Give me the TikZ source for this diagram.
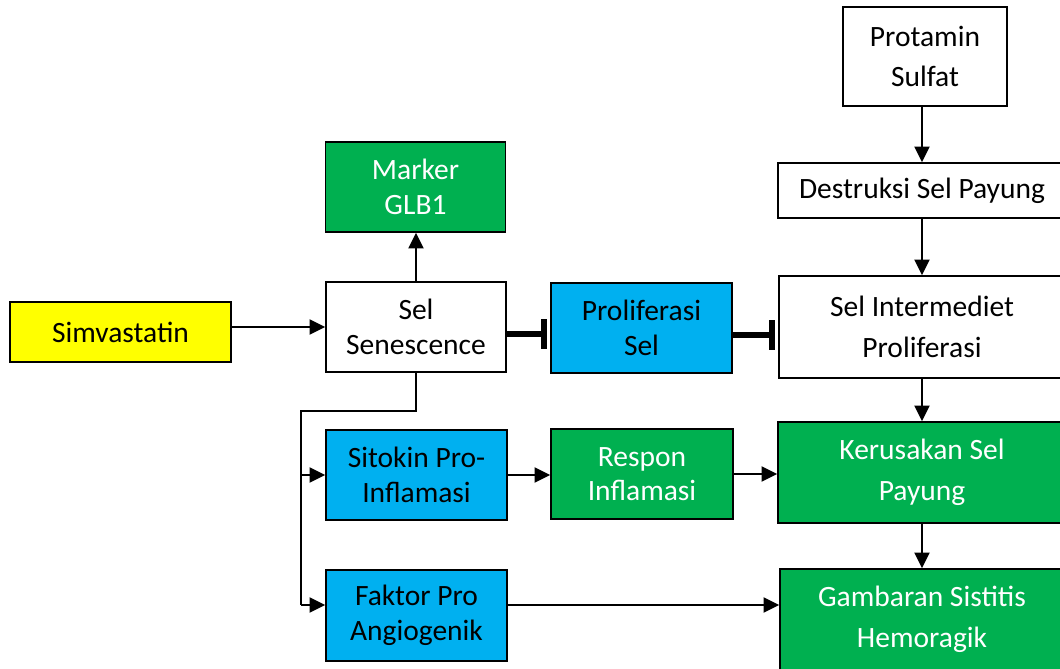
\documentclass[tikz,border=0pt]{standalone}
\usepackage{fontspec}
\setmainfont{Carlito}
\usetikzlibrary{arrows.meta}
\definecolor{oyellow}{HTML}{FFFF00}
\definecolor{ogreen}{HTML}{00B050}
\definecolor{oblue}{HTML}{00B0F0}
\begin{document}
\begin{tikzpicture}[x=1pt,y=-1pt,
  box/.style={draw=black, line width=1.8pt, inner sep=0pt, align=center,
    font=\fontsize{29.5}{34.5}\selectfont},
  tallbox/.style={box, font=\fontsize{29.5}{40.5}\selectfont},
  wfill/.style={fill=white, text=black},
  yfill/.style={fill=oyellow, text=black},
  gfill/.style={fill=ogreen, text=white},
  bfill/.style={fill=oblue, text=black},
  conn/.style={draw=black, line width=2pt},
  arr/.style={conn, -{Triangle[length=15.5pt,width=15pt]}},
  inh/.style={draw=black, line width=5.5pt, -{Bar[width=30pt]}, shorten >=3.5pt}
]
\useasboundingbox (0,0) rectangle (1060,669);

% nodes
\node[box, yfill, minimum width=221pt, minimum height=60pt] (simv) at (120.5,332) {Simvastatin};
\node[box, wfill, minimum width=180pt, minimum height=90pt] (sel) at (416,327) {Sel\\Senescence};
\node[box, gfill, minimum width=180pt, minimum height=90pt] (marker) at (415.5,187) {Marker\\GLB1};
\node[box, bfill, minimum width=181pt, minimum height=90pt] (prolif) at (641.5,328) {Proliferasi\\Sel};
\node[tallbox, wfill, minimum width=164pt, minimum height=99pt] (prot) at (925,56.5) {Protamin\\Sulfat};
\node[box, wfill, minimum width=288pt, minimum height=55pt] (destr) at (922,190.5) {Destruksi Sel Payung};
\node[tallbox, wfill, minimum width=286pt, minimum height=102pt] (inter) at (922,327) {Sel Intermediet\\Proliferasi};
\node[box, bfill, minimum width=181pt, minimum height=90pt] (sitokin) at (416.5,475) {Sitokin Pro-\\Inflamasi};
\node[box, gfill, minimum width=182pt, minimum height=90pt] (respon) at (642,474) {Respon\\Inflamasi};
\node[tallbox, gfill, minimum width=288pt, minimum height=101pt] (kerus) at (922,472.5) {Kerusakan Sel\\Payung};
\node[box, bfill, minimum width=181pt, minimum height=91pt] (faktor) at (416.5,615.5) {Faktor Pro\\Angiogenik};
\node[tallbox, gfill, minimum width=284pt, minimum height=101pt] (gamb) at (922,619.5) {Gambaran Sistitis\\Hemoragik};

% helper coordinates
\coordinate (trunk) at (301,411);
\coordinate (fa) at ([yshift=10.5pt]faktor.west);

% connectors
\draw[arr] (simv.east |- sel.west) -- (sel.west);
\draw[arr] (sel.north) -- (sel.north |- marker.south);
\draw[inh] ([yshift=-7pt]sel.east) -- ([yshift=-7pt]sel.east -| prolif.west);
\draw[inh] ([yshift=-7pt]prolif.east) -- ([yshift=-7pt]prolif.east -| inter.west);

\draw[conn] (sel.south) |- (trunk) -- (trunk |- fa);
\draw[arr] (trunk |- sitokin.west) -- (sitokin.west);
\draw[arr] (trunk |- fa) -- (fa);

\draw[arr] (sitokin.east) -- (sitokin.east -| respon.west);
\draw[arr] (respon.east) -- (respon.east -| kerus.west);
\draw[arr] (fa -| faktor.east) -- (fa -| gamb.west);

\draw[arr] (destr.north |- prot.south) -- (destr.north);
\draw[arr] (destr.south) -- (inter.north);
\draw[arr] (inter.south) -- (kerus.north);
\draw[arr] (kerus.south) -- (gamb.north);
\end{tikzpicture}
\end{document}
